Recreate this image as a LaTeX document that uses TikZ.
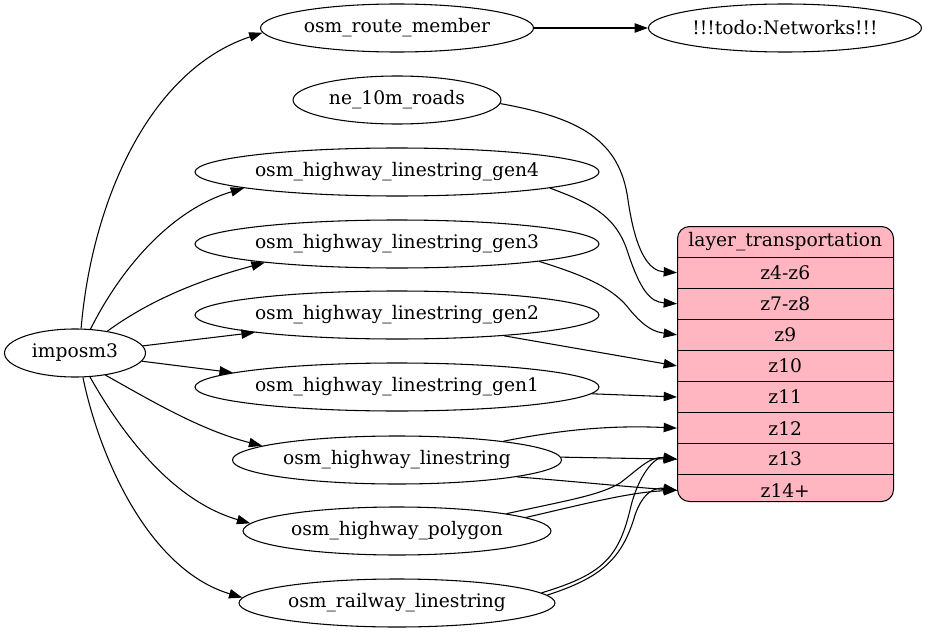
\documentclass[tikz,border=0pt]{standalone}
\usepackage{fontspec}
\setmainfont{DejaVu Serif}
\usetikzlibrary{shapes.geometric,arrows.meta}
\definecolor{recpink}{HTML}{FFB6C1}
\begin{document}
\begin{tikzpicture}[x=0.75pt,y=-0.75pt,
  every node/.style={font=\fontsize{14}{16}\selectfont},
  ell/.style={draw, ellipse, inner sep=0pt, minimum height=36pt, line width=0.8pt},
  rowbox/.style={inner sep=0pt, minimum width=162pt, minimum height=22.92pt, anchor=north west},
  sepline/.style={line width=0.8pt},
  conn/.style={-{Triangle[length=10pt,width=7pt]}, line width=0.8pt}]
\useasboundingbox (0,0) rectangle (928,635);

% ellipses
\node[ell, minimum width=105.75pt] (imposm) at (75,353) {imposm3};
\node[ell, minimum width=204.75pt] (route) at (397,28) {osm\_route\_member};
\node[ell, minimum width=204.75pt] (todo) at (785,28) {!!!todo:Networks!!!};
\node[ell, minimum width=156pt] (ne) at (397,100) {ne\_10m\_roads};
\node[ell, minimum width=303pt] (g4) at (397,172) {osm\_highway\_linestring\_gen4};
\node[ell, minimum width=303pt] (g3) at (397,244) {osm\_highway\_linestring\_gen3};
\node[ell, minimum width=303pt] (g2) at (397,315) {osm\_highway\_linestring\_gen2};
\node[ell, minimum width=303pt] (g1) at (397,387) {osm\_highway\_linestring\_gen1};
\node[ell, minimum width=246.75pt] (ls) at (397,460) {osm\_highway\_linestring};
\node[ell, minimum width=231pt] (poly) at (397,531) {osm\_highway\_polygon};
\node[ell, minimum width=237pt] (rail) at (397,603) {osm\_railway\_linestring};

% record
\node[draw, fill=recpink, rounded corners=9pt, line width=0.8pt, inner sep=0pt,
      minimum width=162pt, minimum height=206.25pt, anchor=north west] (rec) at (677,226) {};
\node[rowbox] (hdr) at (rec.north west) {layer\_transportation};
\node[rowbox] (z46) at (hdr.south west) {z4-z6};
\node[rowbox] (z78) at (z46.south west) {z7-z8};
\node[rowbox] (z9) at (z78.south west) {z9};
\node[rowbox] (z10) at (z9.south west) {z10};
\node[rowbox] (z11) at (z10.south west) {z11};
\node[rowbox] (z12) at (z11.south west) {z12};
\node[rowbox] (z13) at (z12.south west) {z13};
\node[rowbox] (z14) at (z13.south west) {z14+};
\foreach \r in {hdr,z46,z78,z9,z10,z11,z12,z13}
  \draw[sepline] (\r.south west) -- (\r.south east);

% imposm3 edges
\draw[conn] (imposm.76) .. controls (92,200) and (150,70) .. (route.182);
\draw[conn] (imposm.57) .. controls (120,270) and (170,210) .. (g4.186);
\draw[conn] (imposm.34) .. controls (150,300) and (200,280) .. (g3.188);
\draw[conn] (imposm.6) -- (g2.187);
\draw[conn] (imposm.-7) -- (g1.175);
\draw[conn] (imposm.-36) .. controls (150,400) and (200,430) .. (ls.174);
\draw[conn] (imposm.-58) .. controls (120,430) and (170,500) .. (poly.177);
\draw[conn] (imposm.-72) .. controls (100,460) and (150,570) .. (rail.178);

\draw[conn] (route.east) -- (todo.west);

% to record
\draw[conn] (ne.-2) .. controls (580,118) and (620,140) .. (628,200)
   .. controls (636,255) and (650,271) .. (z46.west);
\draw[conn] (g4.-6) .. controls (590,203) and (615,215) .. (627,250)
   .. controls (640,290) and (650,302) .. (z78.west);
\draw[conn] (g3.-7) .. controls (590,277) and (615,290) .. (630,310)
   .. controls (645,328) and (655,332) .. (z9.west);
\draw[conn] (g2.-11) -- (z10.west);
\draw[conn] (g1.-2) -- (z11.west);
\draw[conn] (ls.10) .. controls (560,430) and (610,425) .. (z12.west);
\draw[conn] (ls.1) -- (z13.west);
\draw[conn] (ls.-8) .. controls (580,482) and (630,487) .. (z14.west);
\draw[conn] (poly.9) .. controls (570,500) and (600,495) .. (620,483)
   .. controls (640,468) and (650,456) .. (z13.west);
\draw[conn] (poly.6) .. controls (580,505) and (630,492) .. (z14.west);
\draw[conn] (rail.4) .. controls (600,575) and (618,560) .. (630,510)
   .. controls (638,475) and (655,456) .. (z13.west);
\draw[conn] (rail.3) .. controls (600,578) and (622,560) .. (635,515)
   .. controls (643,492) and (655,487) .. (z14.west);
\end{tikzpicture}
\end{document}
